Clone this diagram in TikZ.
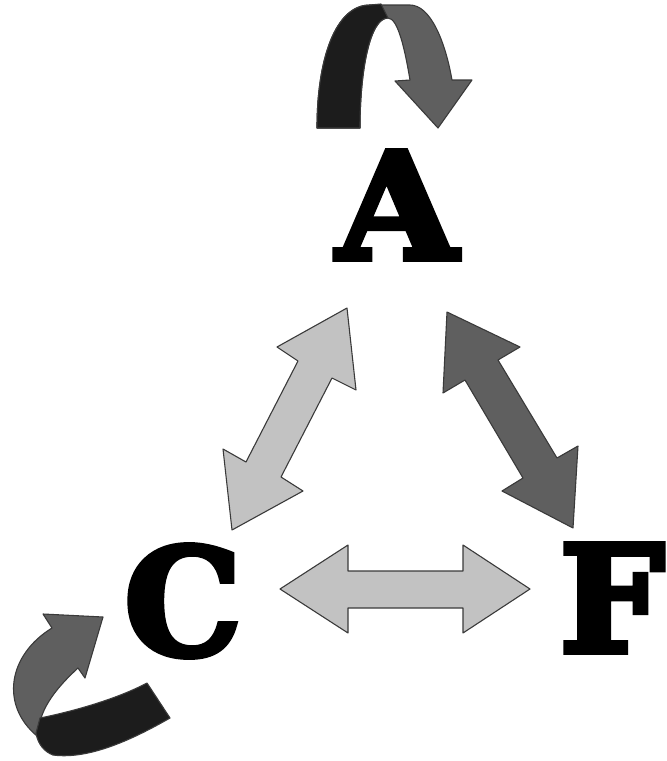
\documentclass[tikz,border=0pt]{standalone}
\usepackage{fontspec}
\newfontfamily\heavy{DejaVu Serif Bold}[FakeBold=4]
\definecolor{lightg}{HTML}{C2C2C2}
\definecolor{midg}{HTML}{5F5F5F}
\definecolor{darkg}{HTML}{1C1C1C}
\definecolor{edge}{HTML}{3A3A3A}
\tikzset{
  arrowshape/.style={draw=edge, line width=1.1pt, line join=round},
  lightarrow/.style={arrowshape, fill=lightg},
  midarrow/.style={arrowshape, fill=midg},
  darkarrow/.style={arrowshape, fill=darkg},
  letter/.style={inner sep=0pt, font=\heavy\fontsize{148}{148}\selectfont, text=black}
}
\begin{document}
\begin{tikzpicture}[x=1pt,y=-1pt]
\useasboundingbox (0,0) rectangle (667,761);
% letters
\node[letter, xscale=1.05] (A) at (397,205) {A};
\node[letter] (C) at (183,601) {C};
\node[letter] (F) at (612,598) {F};
% top U-turn arrow
\path[midarrow] (317,128) .. controls (317,60) and (335,5) .. (370,5) -- (410,5)
  .. controls (430,5) and (445,40) .. (452,80) -- (472,80) -- (438,128) -- (395,81) -- (410,80)
  .. controls (405,50) and (398,18) .. (388,18) .. controls (370,18) and (360,70) .. (360,128) -- cycle;
\path[darkarrow] (317,128) .. controls (317,60) and (335,5) .. (370,5) -- (381,4)
  .. controls (384,10) and (386,14) .. (388,18) .. controls (370,18) and (360,70) .. (360,128) -- cycle;
% bottom-left curved arrow
\path[midarrow] (37,736) .. controls (0,705) and (8,655) .. (52,628) -- (43,614) -- (103,617)
  -- (85,678) -- (78,668) .. controls (65,680) and (45,700) .. (40,722) -- cycle;
\path[darkarrow] (40,718) .. controls (70,712) and (115,700) .. (147,683) -- (170,718)
  .. controls (135,738) and (90,760) .. (53,755) .. controls (45,752) and (38,745) .. (36,733) -- cycle;
% A <-> C
\path[lightarrow] (347,308) -- (356,390) -- (332,378) -- (281,477) -- (303,491) -- (232,530)
  -- (223,449) -- (246,462) -- (298,361) -- (277,347) -- cycle;
% A <-> F
\path[midarrow] (447,312) -- (520,347) -- (498,360) -- (557,458) -- (578,446) -- (573,528)
  -- (502,491) -- (523,478) -- (465,380) -- (443,393) -- cycle;
% C <-> F
\path[lightarrow] (280,589) -- (348,545) -- (348,571) -- (463,571) -- (463,545) -- (530,589)
  -- (463,633) -- (463,608) -- (348,608) -- (348,633) -- cycle;
\end{tikzpicture}
\end{document}
